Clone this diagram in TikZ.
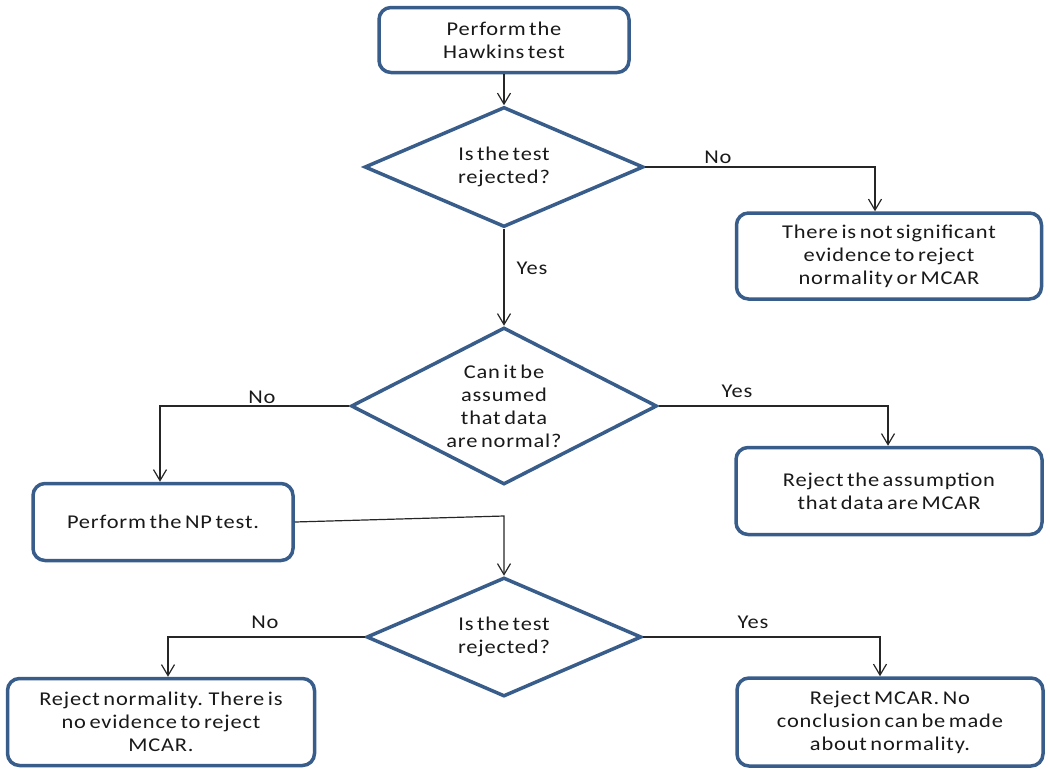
\documentclass[tikz,border=0pt]{standalone}
\usepackage{fontspec}
\setmainfont{Carlito}[FakeStretch=1.15, LetterSpace=4.2, WordSpace=0.6]
\usetikzlibrary{arrows.meta,shapes.geometric}
\definecolor{boxblue}{RGB}{56,93,138}
\begin{document}
\begin{tikzpicture}[x=1pt,y=-1pt,
  font=\fontsize{19.5}{23}\selectfont,
  box/.style={draw=boxblue, line width=3.5pt, rounded corners=12pt, fill=white, align=center, inner sep=0pt, text=black!90},
  dec/.style={diamond, draw=boxblue, line width=3.5pt, inner sep=0pt, fill=white},
  conn/.style={draw=black!85, line width=1.2pt},
  arr/.style={conn, -{Straight Barb[length=11pt,width=13pt]}},
  lbl/.style={inner sep=0pt, text=black!90, align=center}]
\useasboundingbox (0,0) rectangle (1050,774);

% boxes
\node[box, minimum width=250, minimum height=65] (b1) at (504,40) {Perform the\\Hawkins test};
\node[box, minimum width=305, minimum height=86] (b2) at (889,256) {There is not significant\\evidence to reject\\normality or MCAR};
\node[box, minimum width=260, minimum height=77] (b3) at (163,522) {Perform the NP test.};
\node[box, minimum width=306, minimum height=87] (b4) at (889,491) {Reject the assumption\\that data are MCAR};
\node[box, minimum width=307, minimum height=87] (b5) at (161,722) {Reject normality. There is\\no evidence to reject\\MCAR.};
\node[box, minimum width=306, minimum height=88] (b6) at (890,722) {Reject MCAR. No\\conclusion can be made\\about normality.};

% decisions
\node[dec, minimum width=279, minimum height=120] (d1) at (504,167) {};
\node[lbl] (t1) at (d1) {Is the test\\rejected?};
\node[dec, minimum width=306, minimum height=157] (d2) at (504,406) {};
\node[lbl] (t2) at (d2) {Can it be\\assumed\\that data\\are normal?};
\node[dec, minimum width=275, minimum height=119] (d3) at (504,637) {};
\node[lbl] (t3) at (d3) {Is the test\\rejected?};

% bend points
\coordinate (c1) at (875,167);
\coordinate (c2) at (160,406);
\coordinate (c3) at (888,406);
\coordinate (c4) at (504,516);
\coordinate (c5) at (168,637);
\coordinate (c6) at (880,637);

% connectors
\draw[arr] (b1.south) -- (d1.north);
\draw[arr] (d1.east) -- (c1) -- (c1 |- b2.north);
\draw[arr] (d1.south) -- (d2.north);
\draw[arr] (d2.west) -- (c2) -- (c2 |- b3.north);
\draw[arr] (d2.east) -- (c3) -- (c3 |- b4.north);
\draw[arr] (b3.east) -- (c4) -- (d3.north);
\draw[arr] (d3.west) -- (c5) -- (c5 |- b5.north);
\draw[arr] (d3.east) -- (c6) -- (c6 |- b6.north);

% labels
\node[lbl] (l1) at (718,157) {No};
\node[lbl] (l2) at (532,268) {Yes};
\node[lbl] (l3) at (262,397) {No};
\node[lbl] (l4) at (737,391) {Yes};
\node[lbl] (l5) at (265,622) {No};
\node[lbl] (l6) at (753,622) {Yes};
\end{tikzpicture}
\end{document}
